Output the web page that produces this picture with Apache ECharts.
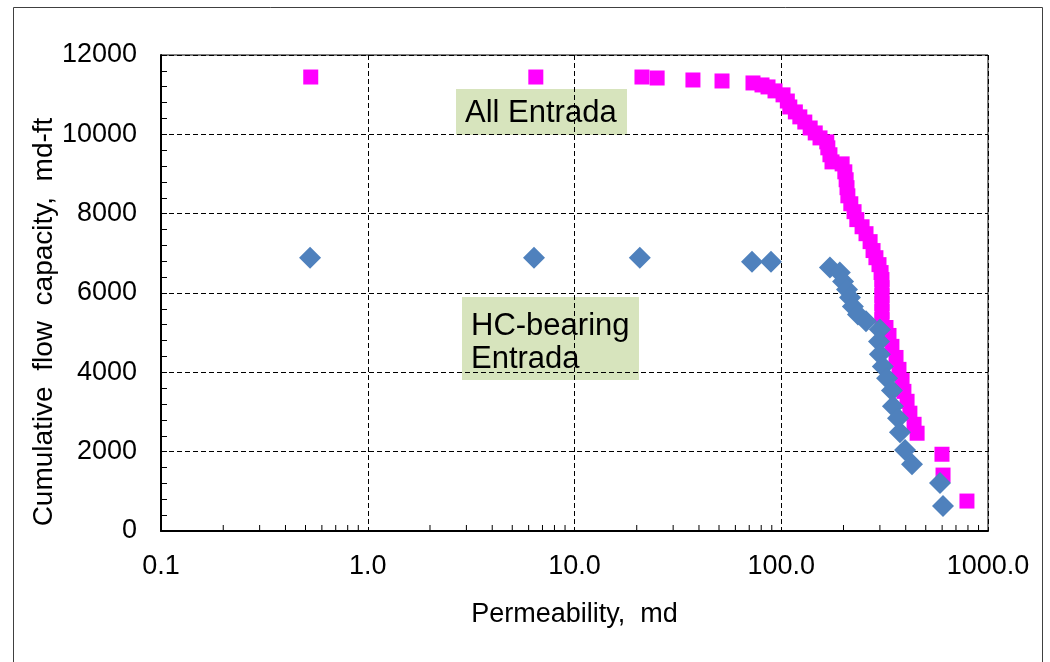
<!DOCTYPE html>
<html><head><meta charset="utf-8">
<script src="https://cdn.jsdelivr.net/npm/echarts@6/dist/echarts.min.js"></script>
<style>html,body{margin:0;padding:0;background:#fff}#c{width:1050px;height:662px}</style>
</head><body><div id="c"></div>
<script>
// All Entrada (pink squares)
const allPerm = [0.53,6.5,21.2,25.1,37.4,51.7,73,80.7,86.3,93.3,102,107,110,117,123,130,138,146,154,166,168,172,176,197,203,206,208,210,217,225,232,246,257,269,278,287,297,304,307,307,307,307,307,307,321,332,343,359,371,384,392,406,419,439,454,599,606,791];
const allCap = [11445,11445,11445,11420,11370,11345,11295,11245,11195,11095,10995,10840,10690,10565,10440,10310,10160,10035,9910,9810,9660,9485,9305,9255,9055,8855,8655,8450,8250,8050,7850,7670,7495,7295,7070,6890,6715,6515,6340,6135,5935,5735,5535,5330,5130,4930,4655,4375,4075,3800,3520,3270,2970,2690,2465,1935,1410,755];
// HC-bearing Entrada (blue diamonds)
const hcPerm = [0.526,6.37,20.7,72.2,89.2,172,192,199,208,215,222,235,257,300,297,300,310,325,343,347,367,375,397,429,586,606];
const hcCap = [6890,6890,6890,6790,6790,6640,6515,6290,6090,5885,5660,5460,5285,5080,4780,4455,4150,3850,3545,3145,2845,2490,2040,1685,1210,630];
// Axis ticks
const xTickLabels = ['0.1','1.0','10.0','100.0','1000.0'];
const xMinorTicks = [0.2,0.3,0.4,0.5,0.6,0.7,0.8,0.9,2,3,4,5,6,7,8,9,20,30,40,50,60,70,80,90,200,300,400,500,600,700,800,900];

const FONT = "Arial, 'Liberation Sans', sans-serif";
const chart = echarts.init(document.getElementById('c'), null, {renderer:'canvas'});
const gridLine = {show:true, lineStyle:{color:'#000', type:[5,3], width:1}};
chart.setOption({
  animation:false,
  backgroundColor:'#fff',
  grid:{left:161, right:62, top:55, bottom:131, show:true, borderColor:'#000', borderWidth:1, backgroundColor:'transparent'},
  xAxis:{
    type:'log', logBase:10, min:0.1, max:1000,
    name:'Permeability,  md', nameLocation:'middle', nameGap:70,
    nameTextStyle:{fontFamily:FONT, fontSize:27, color:'#000'},
    axisLine:{show:true, lineStyle:{color:'#000', width:2}},
    axisTick:{show:false},
    axisLabel:{fontFamily:FONT, fontSize:27, color:'#000', margin:22, showMaxLabel:true, showMinLabel:true,
      formatter:v=>xTickLabels[Math.round(Math.log10(v))+1]},
    splitLine:gridLine
  },
  yAxis:{
    type:'value', min:0, max:12000, interval:2000,
    axisLine:{show:true, lineStyle:{color:'#000', width:2}},
    axisTick:{show:true, inside:true, length:6, lineStyle:{color:'#000'}},
    minorTick:{show:true, splitNumber:5, length:6, lineStyle:{color:'#000', width:1}},
    axisLabel:{fontFamily:FONT, fontSize:27, color:'#000', margin:24, formatter:v=>String(v)},
    splitLine:gridLine
  },
  series:[
    {type:'custom', silent:true, z:1, clip:false,
     data:xMinorTicks.map(v=>[v,0]),
     renderItem:(params, api)=>{
       const p = api.coord([api.value(0), 0]);
       return {type:'line', shape:{x1:p[0], y1:p[1], x2:p[0], y2:p[1]-6}, style:{stroke:'#000', lineWidth:1}};
     }},
    {name:'All Entrada', type:'scatter', symbol:'rect', symbolSize:15, z:3,
     itemStyle:{color:'#ff00ff', opacity:1},
     data:allPerm.map((x,i)=>[x, allCap[i]])},
    {name:'HC-bearing Entrada', type:'scatter', symbol:'diamond', symbolSize:22, z:4,
     itemStyle:{color:'#4f81bd', opacity:1},
     data:hcPerm.map((x,i)=>[x, hcCap[i]])}
  ],
  graphic:[
    {type:'rect', left:11, top:5, shape:{width:1029, height:655}, style:{fill:'none', stroke:'#404040', lineWidth:1}, z:-1},
    {type:'text', x:44, y:322, rotation:Math.PI/2, z:10,
     style:{text:'Cumulative  flow  capacity,  md-ft', font:"28px Arial, 'Liberation Sans', sans-serif", fill:'#000', align:'center', verticalAlign:'middle'}},
    {type:'group', left:456, top:89, z:10, children:[
      {type:'rect', shape:{x:0,y:0,width:171,height:46}, style:{fill:'#d7e4bd'}},
      {type:'text', x:9, y:24, style:{text:'All Entrada', font:"31px Arial, 'Liberation Sans', sans-serif", fill:'#000', verticalAlign:'middle'}}
    ]},
    {type:'group', left:462, top:297, z:10, children:[
      {type:'rect', shape:{x:0,y:0,width:177,height:83}, style:{fill:'#d7e4bd'}},
      {type:'text', x:9, y:13, style:{text:'HC-bearing\nEntrada', font:"31px Arial, 'Liberation Sans', sans-serif", lineHeight:33, fill:'#000'}}
    ]}
  ]
});
</script>
</body></html>
